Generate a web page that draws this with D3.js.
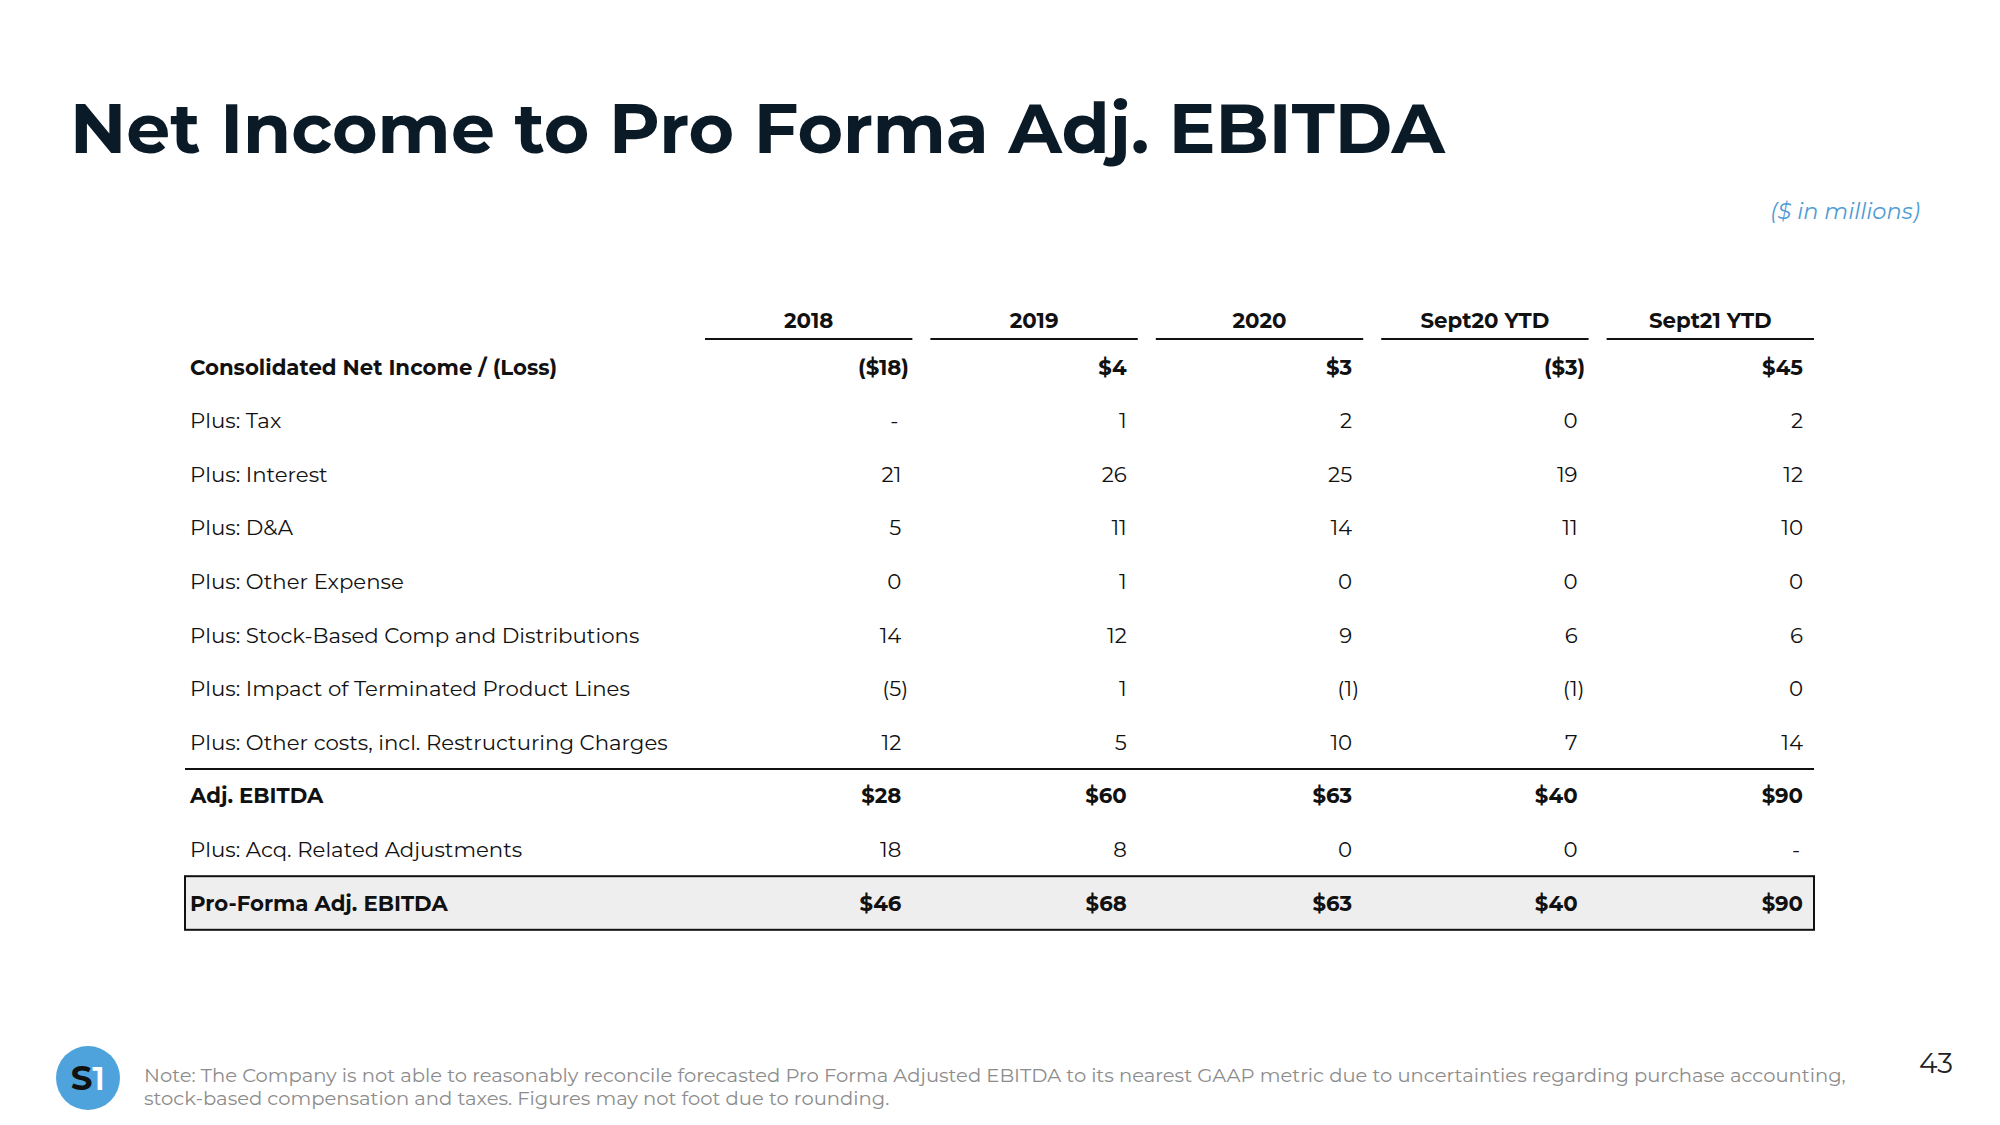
<!DOCTYPE html>
<html>
<head>
<meta charset="utf-8">
<script src="https://cdn.jsdelivr.net/npm/d3@7"></script>
<style>
  html, body { margin: 0; padding: 0; background: #ffffff; }
  svg { display: block; }
</style>
</head>
<body>
<svg id="chart" width="2000" height="1125"></svg>
<script>
// ---------------- DATA ----------------
const columns = ["2018", "2019", "2020", "Sept20 YTD", "Sept21 YTD"];
const rowLabels = [
  "Consolidated Net Income / (Loss)",
  "Plus: Tax",
  "Plus: Interest",
  "Plus: D&A",
  "Plus: Other Expense",
  "Plus: Stock-Based Comp and Distributions",
  "Plus: Impact of Terminated Product Lines",
  "Plus: Other costs, incl. Restructuring Charges",
  "Adj. EBITDA",
  "Plus: Acq. Related Adjustments",
  "Pro-Forma Adj. EBITDA"
];
const boldRows = ["Consolidated Net Income / (Loss)", "Adj. EBITDA", "Pro-Forma Adj. EBITDA"];
const netIncome      = [-18, 4, 3, -3, 45];
const tax            = [null, 1, 2, 0, 2];
const interest       = [21, 26, 25, 19, 12];
const dna            = [5, 11, 14, 11, 10];
const otherExpense   = [0, 1, 0, 0, 0];
const stockComp      = [14, 12, 9, 6, 6];
const terminated     = [-5, 1, -1, -1, 0];
const otherCosts     = [12, 5, 10, 7, 14];
const adjEbitda      = [28, 60, 63, 40, 90];
const acqAdjustments = [18, 8, 0, 0, null];
const proForma       = [46, 68, 63, 40, 90];
const seriesValues = [netIncome, tax, interest, dna, otherExpense, stockComp,
                      terminated, otherCosts, adjEbitda, acqAdjustments, proForma];

const titleText = "Net Income to Pro Forma Adj. EBITDA";
const unitsText = "($ in millions)";
const noteLines = [
  "Note: The Company is not able to reasonably reconcile forecasted Pro Forma Adjusted EBITDA to its nearest GAAP metric due to uncertainties regarding purchase accounting,",
  "stock-based compensation and taxes. Figures may not foot due to rounding."
];
const pageNumber = "43";

// ---------------- RENDER ----------------
const FONT = "Montserrat, Inter, 'Noto Sans', sans-serif";
const svg = d3.select("#chart");

function measure(text, size, weight, style) {
  const t = svg.append("text").attr("font-family", FONT).attr("font-size", size)
    .attr("font-weight", weight || "normal").attr("font-style", style || "normal").text(text);
  const w = t.node().getComputedTextLength();
  t.remove();
  return w;
}
function fit(text, target, weight, style) {
  return 100 * target / measure(text, 100, weight, style);
}

// Title
const titleSize = Math.min(82, fit(titleText, 1375, "bold"));
svg.append("text").attr("x", 70).attr("y", 153)
  .attr("font-family", FONT).attr("font-weight", "bold").attr("font-size", titleSize)
  .attr("fill", "#0b1a27").text(titleText);

// Units
svg.append("text").attr("x", 1920).attr("y", 219).attr("text-anchor", "end")
  .attr("font-family", FONT).attr("font-style", "italic")
  .attr("font-size", Math.min(23, fit(unitsText, 150, "normal", "italic")))
  .attr("fill", "#4f9bd3").text(unitsText);

// Scales
const x = d3.scaleBand().domain(columns).range([705, 1814]).paddingInner(0.08).paddingOuter(0);
const y = d3.scalePoint().domain(rowLabels).range([367, 903]);
const rowStep = y.step();

const bodySize = Math.min(22, fit("Plus: Other costs, incl. Restructuring Charges", 478, "normal"));
const headSize = Math.min(22, fit("Sept20 YTD", 129, "bold"));
const parenW = measure(")", bodySize, "normal");
const parenWB = measure(")", bodySize, "bold");

// Pro-forma box (behind text)
const pfY = y("Pro-Forma Adj. EBITDA");
svg.append("rect").attr("x", 185).attr("y", pfY - rowStep / 2)
  .attr("width", 1814 - 185).attr("height", rowStep)
  .attr("fill", "#eeeeee").attr("stroke", "#111").attr("stroke-width", 2);

// Rule above Adj. EBITDA
const ruleY = (y("Plus: Other costs, incl. Restructuring Charges") + y("Adj. EBITDA")) / 2;
svg.append("line").attr("x1", 185).attr("x2", 1814).attr("y1", ruleY).attr("y2", ruleY)
  .attr("stroke", "#111").attr("stroke-width", 2);

// Column headers
const head = svg.append("g");
columns.forEach(c => {
  head.append("text").attr("x", x(c) + x.bandwidth() / 2).attr("y", 328)
    .attr("text-anchor", "middle").attr("font-family", FONT).attr("font-weight", "bold")
    .attr("font-size", headSize).attr("fill", "#111").text(c);
  head.append("line").attr("x1", x(c)).attr("x2", x(c) + x.bandwidth())
    .attr("y1", 339).attr("y2", 339).attr("stroke", "#111").attr("stroke-width", 2);
});

// Rows
function fmt(v, bold) {
  if (v === null) return "-";
  const a = Math.abs(v);
  if (bold) return v < 0 ? "($" + a + ")" : "$" + a;
  return v < 0 ? "(" + a + ")" : String(a);
}
const rows = svg.append("g");
rowLabels.forEach((lab, i) => {
  const bold = boldRows.includes(lab);
  const cy = y(lab);
  rows.append("text").attr("x", 190).attr("y", cy).attr("dy", "0.36em")
    .attr("font-family", FONT).attr("font-weight", bold ? "bold" : "normal")
    .attr("font-size", bodySize).attr("fill", "#111").text(lab);
  seriesValues[i].forEach((v, j) => {
    const anchor = x(columns[j]) + x.bandwidth() - 11;
    const shift = (v !== null && v < 0) ? (bold ? parenWB : parenW) : (v === null ? -3 : 0);
    rows.append("text").attr("x", anchor + shift).attr("y", cy).attr("dy", "0.36em")
      .attr("text-anchor", "end").attr("font-family", FONT)
      .attr("font-weight", bold ? "bold" : "normal")
      .attr("font-size", bodySize).attr("fill", "#111").text(fmt(v, bold));
  });
});

// Logo
const logo = svg.append("g").attr("transform", "translate(88,1078)");
logo.append("circle").attr("r", 32).attr("fill", "#4ea3dc");
const lt = logo.append("text").attr("y", 12).attr("text-anchor", "middle")
  .attr("font-family", FONT).attr("font-weight", "bold").attr("font-size", 34);
lt.append("tspan").attr("fill", "#111").text("S");
lt.append("tspan").attr("fill", "#ffffff").attr("font-weight", "600").text("1");

// Note
const noteSize = Math.min(20, fit(noteLines[0], 1703, "normal"));
noteLines.forEach((l, i) => {
  svg.append("text").attr("x", 144).attr("y", 1082 + i * 23)
    .attr("font-family", FONT).attr("font-size", noteSize).attr("fill", "#8c8c8c").text(l);
});

// Page number
svg.append("text").attr("x", 1953).attr("y", 1073).attr("text-anchor", "end")
  .attr("font-family", FONT).attr("font-size", 28).attr("fill", "#222").text(pageNumber);
</script>
</body>
</html>
